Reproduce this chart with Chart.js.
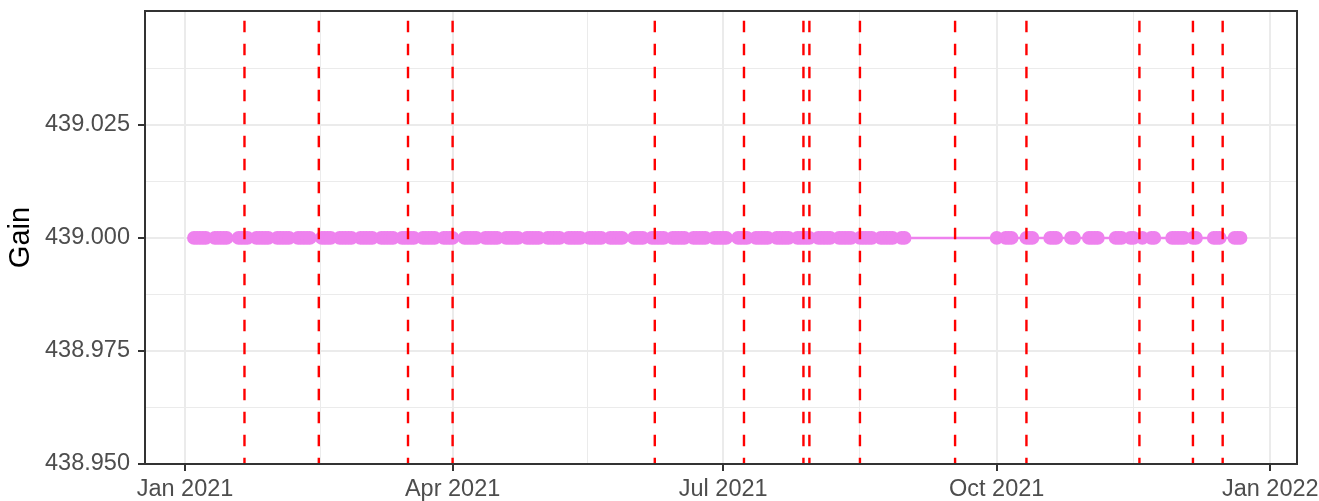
<!DOCTYPE html>
<html><head><meta charset="utf-8">
<script src="https://cdn.jsdelivr.net/npm/chart.js@4/dist/chart.umd.min.js"></script>
<style>html,body{margin:0;padding:0;background:#fff;}#wrap{width:1319px;height:501px;position:relative;}</style>
</head><body><div id="wrap"><canvas id="c"></canvas></div>
<script>
// ---- data (year 2021): observation days per month ----
const jan = [4,5,6,7,8,11,12,13,14,15,19,20,21,22,25,26,27,28,29];
const feb = [1,2,3,4,5,8,9,10,11,12,16,17,18,19,22,23,24,25,26];
const mar = [1,2,3,4,5,8,9,10,11,12,15,16,17,18,19,22,23,24,25,26,29,30,31];
const apr = [1,5,6,7,8,9,12,13,14,15,16,19,20,21,22,23,26,27,28,29,30];
const may = [3,4,5,6,7,10,11,12,13,14,17,18,19,20,21,24,25,26,27,28];
const jun = [1,2,3,4,7,8,9,10,11,14,15,16,17,18,21,22,23,24,25,28,29,30];
const jul = [1,2,6,7,8,9,12,13,14,15,16,19,20,21,22,23,26,27,28,29,30];
const aug = [2,3,4,5,6,9,10,11,12,13,16,17,18,19,20,23,24,25,26,27,30,31];
const sep = [];
const oct = [1,4,5,6,11,12,13,19,20,21,26,27];
const nov = [1,2,3,4,10,11,12,15,16,19,22,23,29,30];
const dec = [1,2,3,6,7,13,14,15,20,21,22];
const gainValue = 439.0; // every observation reads 439.000

const eventDates = ['2021-01-21','2021-02-15','2021-03-17','2021-04-01','2021-06-08','2021-07-08',
  '2021-07-28','2021-07-30','2021-08-16','2021-09-17','2021-10-11','2021-11-18','2021-12-06','2021-12-16'];

const xMajorDates = ['2021-01-01','2021-04-01','2021-07-01','2021-10-01','2022-01-01'];
const xMajorLabels = ['Jan 2021','Apr 2021','Jul 2021','Oct 2021','Jan 2022'];
const xMinorDates = ['2021-02-15T12:00:00Z','2021-05-16T12:00:00Z','2021-08-16T00:00:00Z','2021-11-16T00:00:00Z'];
const yMajor = [438.950, 438.975, 439.000, 439.025];
const yMajorLabels = ['438.950','438.975','439.000','439.025'];
const yMinor = [438.9625, 438.9875, 439.0125, 439.0375];
const xRange = ['2020-12-18T13:00:00Z','2022-01-10T00:00:00Z'];
const yRange = [438.950, 439.0502];

// ---- build ----
const months = [jan,feb,mar,apr,may,jun,jul,aug,sep,oct,nov,dec];
const gainPts = [];
months.forEach((days, m) => days.forEach(d => gainPts.push({x: Date.UTC(2021, m, d), y: gainValue})));
const t = s => Date.parse(s.length === 10 ? s + 'T00:00:00Z' : s);
const xMajorVals = xMajorDates.map(t);
const xMinorVals = xMinorDates.map(t);
const xTickVals = [...xMajorVals, ...xMinorVals].sort((a,b)=>a-b);
const yTickVals = [...yMajor, ...yMinor].sort((a,b)=>a-b);
const isXMajor = v => xMajorVals.includes(v);
const isYMajor = v => yMajor.some(m => Math.abs(m - v) < 1e-9);

const vlineSets = eventDates.map(d => ({
  type: 'line', order: 0,
  data: [{x: t(d), y: yRange[1]}, {x: t(d), y: yRange[0]}],
  borderColor: '#ff0000', borderWidth: 2.4, borderDash: [11.5, 11.5], borderDashOffset: 13.3,
  pointRadius: 0, fill: false, tension: 0
}));

Chart.defaults.font.family = "'Liberation Sans', Arial, sans-serif";

const frame = {
  id: 'frame',
  afterDraw(chart) {
    const {ctx, chartArea: a} = chart;
    ctx.save();
    ctx.strokeStyle = '#333333';
    ctx.lineWidth = 2;
    ctx.strokeRect(a.left, a.top, a.right - a.left, a.bottom - a.top);
    ctx.restore();
  }
};

new Chart(document.getElementById('c'), {
  type: 'line',
  data: {
    datasets: [
      ...vlineSets,
      {
        order: 1,
        data: gainPts,
        borderColor: '#EE82EE', backgroundColor: '#EE82EE', borderWidth: 2.5,
        pointRadius: 6.9, pointBorderWidth: 0, pointBackgroundColor: '#EE82EE',
        fill: false, tension: 0
      }
    ]
  },
  options: {
    responsive: true, maintainAspectRatio: false, animation: false,
    layout: {padding: {top: 11, right: 22, left: 0, bottom: 0}},
    plugins: {legend: {display: false}, tooltip: {enabled: false}},
    scales: {
      x: {
        type: 'linear', min: t(xRange[0]), max: t(xRange[1]),
        afterBuildTicks: s => { s.ticks = xTickVals.map(v => ({value: v})); },
        afterFit: s => { s.height = 37; s.paddingLeft = 0; s.paddingRight = 0; },
        ticks: {
          autoSkip: false, maxRotation: 0, minRotation: 0, padding: 4,
          color: '#4d4d4d', font: {size: 23.5},
          callback: v => { const i = xMajorVals.indexOf(v); return i >= 0 ? xMajorLabels[i] : ''; }
        },
        grid: {
          color: '#ebebeb',
          lineWidth: c => (c.tick && isXMajor(c.tick.value)) ? 2 : 1,
          tickColor: c => (c.tick && isXMajor(c.tick.value)) ? '#333333' : 'rgba(0,0,0,0)',
          tickLength: 7, tickWidth: 2
        },
        border: {display: false}
      },
      y: {
        type: 'linear', min: yRange[0], max: yRange[1],
        afterBuildTicks: s => { s.ticks = yTickVals.map(v => ({value: v})); },
        afterFit: s => { s.width = 145; s.paddingTop = 0; s.paddingBottom = 0; },
        ticks: {
          padding: 8, color: '#4d4d4d', font: {size: 23.5},
          callback: v => { const i = yMajor.findIndex(m => Math.abs(m - v) < 1e-9); return i >= 0 ? yMajorLabels[i] : ''; }
        },
        title: {display: true, text: 'Gain', color: '#000000', font: {size: 29}, padding: {top: 4, bottom: 0}},
        grid: {
          color: '#ebebeb',
          lineWidth: c => (c.tick && isYMajor(c.tick.value)) ? 2 : 1,
          tickColor: c => (c.tick && isYMajor(c.tick.value)) ? '#333333' : 'rgba(0,0,0,0)',
          tickLength: 7, tickWidth: 2
        },
        border: {display: false}
      }
    }
  },
  plugins: [frame]
});
</script></body></html>
